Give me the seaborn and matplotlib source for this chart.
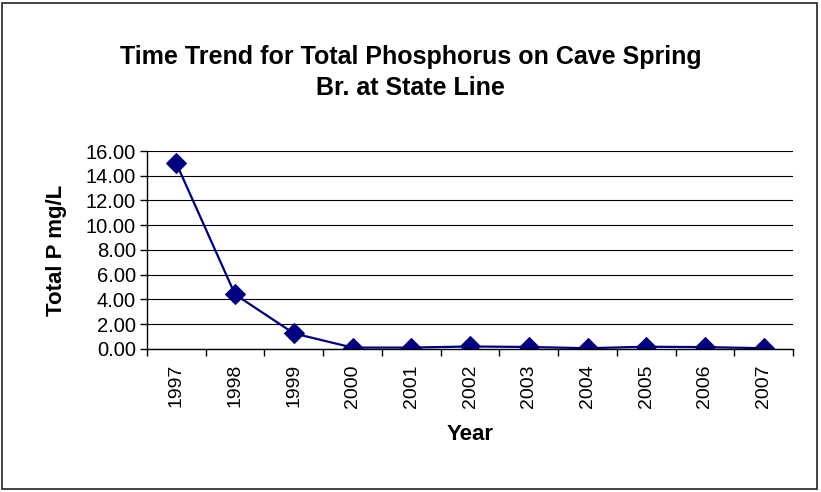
import matplotlib
matplotlib.use("Agg")
import matplotlib.pyplot as plt
import seaborn as sns
import pandas as pd
from matplotlib.patches import Rectangle

years = ['1997', '1998', '1999', '2000', '2001', '2002',
         '2003', '2004', '2005', '2006', '2007']
total_p = [15.0, 4.4, 1.25, 0.1, 0.1, 0.19, 0.15, 0.05, 0.17, 0.14, 0.05]
y_ticks = [0, 2, 4, 6, 8, 10, 12, 14, 16]

sns.set_style('white')
plt.rcParams['font.family'] = ['Liberation Sans', 'DejaVu Sans']
for key in ['text.color', 'axes.labelcolor', 'xtick.color', 'ytick.color']:
    plt.rcParams[key] = 'black'

df = pd.DataFrame({'Year': years, 'Total P': total_p})

fig = plt.figure(figsize=(8.21, 4.92), dpi=100)
ax = fig.add_axes([0.179, 0.291, 0.787, 0.402])

sns.lineplot(data=df, x='Year', y='Total P', ax=ax, color='#000080',
             marker='D', markersize=10, markeredgecolor='#000080',
             linewidth=1.6, sort=False)

ax.set_xlim(-0.5, len(years) - 0.5)
ax.set_ylim(0, 16)
ax.set_yticks(y_ticks)
ax.set_yticklabels([f'{v:.2f}' for v in y_ticks], fontsize=14.5)
ax.set_xticks(range(len(years)))
ax.set_xticklabels(years, rotation=90, fontsize=14)
ax.set_xticks([i - 0.5 for i in range(len(years) + 1)], minor=True)
ax.tick_params(axis='x', which='major', length=0, pad=11)
ax.tick_params(axis='x', which='minor', length=5, width=1, color='black',
               direction='out', bottom=True)
ax.tick_params(axis='y', length=5, width=1, color='black', direction='out',
               left=True, pad=3)

ax.yaxis.grid(True, color='black', linewidth=0.8)
ax.set_axisbelow(True)
for side in ['top', 'right']:
    ax.spines[side].set_visible(False)
for side in ['left', 'bottom']:
    ax.spines[side].set_color('black')
    ax.spines[side].set_linewidth(1)

ax.set_xlabel('Year', fontsize=16, fontweight='bold')
ax.set_ylabel('Total P mg/L', fontsize=16, fontweight='bold')
ax.xaxis.set_label_coords(0.5, -0.38)
ax.yaxis.set_label_coords(-0.124, 0.5)

fig.text(0.5, 0.853, 'Time Trend for Total Phosphorus on Cave Spring\nBr. at State Line',
         ha='center', va='center', fontsize=18, fontweight='bold',
         linespacing=1.35)

fig.patches.append(Rectangle((0.003, 0.006), 0.992, 0.988,
                             transform=fig.transFigure, fill=False,
                             edgecolor='#222222', linewidth=1.2))

fig.savefig('out.png', dpi=100)
